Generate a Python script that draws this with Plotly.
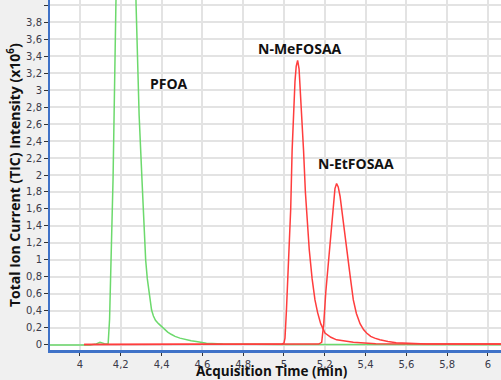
import plotly.graph_objects as go

# PFOA (green) retention time (min) and intensity (x10^6)
pfoa_t = [3.853, 4.05, 4.08, 4.098, 4.12, 4.138, 4.145, 4.162, 4.176, 4.20, 4.22, 4.24, 4.275,
          4.29, 4.304, 4.313, 4.322, 4.33, 4.338, 4.345, 4.351, 4.36, 4.37, 4.385, 4.40, 4.415,
          4.43, 4.447, 4.466, 4.49, 4.52, 4.545, 4.57, 4.6, 4.62, 4.7, 4.8, 5.0, 5.5, 6.064]
pfoa_i = [0.0, 0.0, 0.012, 0.03, 0.015, 0.01, 0.3, 1.94, 4.0, 7.5, 9.0, 8.0, 4.0,
          2.7, 1.94, 1.42, 1.0, 0.78, 0.61, 0.5, 0.41, 0.34, 0.29, 0.25, 0.215, 0.18,
          0.15, 0.125, 0.10, 0.08, 0.06, 0.05, 0.04, 0.027, 0.02, 0.012, 0.008, 0.005, 0.004, 0.003]

# N-MeFOSAA (red)
mefosaa_t = [4.02, 4.99, 5.0, 5.005, 5.012, 5.02, 5.027, 5.033, 5.04, 5.047, 5.054, 5.06, 5.067,
             5.074, 5.08, 5.087, 5.096, 5.105, 5.114, 5.124, 5.138, 5.152, 5.165, 5.18, 5.201,
             5.23, 5.258, 5.3, 5.34, 5.45, 6.064]
mefosaa_i = [0.005, 0.01, 0.02, 0.08, 0.4, 0.85, 1.12, 1.6, 2.29, 2.75, 3.1, 3.28, 3.35,
             3.25, 3.0, 2.7, 2.29, 1.8, 1.42, 1.12, 0.78, 0.53, 0.38, 0.25, 0.14,
             0.09, 0.06, 0.04, 0.03, 0.015, 0.01]

# N-EtFOSAA (red)
etfosaa_t = [4.02, 5.17, 5.185, 5.195, 5.205, 5.215, 5.225, 5.235, 5.243, 5.25, 5.258, 5.266,
             5.275, 5.285, 5.297, 5.31, 5.325, 5.34, 5.355, 5.373, 5.39, 5.405, 5.425, 5.445,
             5.47, 5.51, 5.55, 5.7, 6.064]
etfosaa_i = [0.005, 0.01, 0.03, 0.25, 0.62, 0.9, 1.12, 1.45, 1.7, 1.84, 1.90, 1.86,
             1.75, 1.55, 1.35, 1.12, 0.8, 0.53, 0.37, 0.25, 0.18, 0.14, 0.1, 0.08,
             0.06, 0.04, 0.025, 0.012, 0.01]

y_tickvals = [0, 0.2, 0.4, 0.6, 0.8, 1, 1.2, 1.4, 1.6, 1.8, 2, 2.2, 2.4, 2.6, 2.8, 3, 3.2,
              3.4, 3.6, 3.8, 4]
y_ticktext = ["0", "0,2", "0,4", "0,6", "0,8", "1", "1,2", "1,4", "1,6", "1,8", "2", "2,2",
              "2,4", "2,6", "2,8", "3", "3,2", "3,4", "3,6", "3,8", ""]
x_tickvals = [4, 4.2, 4.4, 4.6, 4.8, 5, 5.2, 5.4, 5.6, 5.8, 6]
x_ticktext = ["4", "4,2", "4,4", "4,6", "4,8", "5", "5,2", "5,4", "5,6", "5,8", "6"]

labels = ["PFOA", "N-MeFOSAA", "N-EtFOSAA"]
x_title = "Acquisition Time (min)"
y_title = "Total Ion Current (TIC) Intensity (x10<sup>6</sup>)"

GREEN = "#6cd96c"
RED = "#ff3d3d"
FONT = "Open Sans, DejaVu Sans, sans-serif"

fig = go.Figure()
fig.add_trace(go.Scatter(x=pfoa_t, y=pfoa_i, mode="lines",
                         line=dict(color=GREEN, width=1.5), name=labels[0]))
fig.add_trace(go.Scatter(x=mefosaa_t, y=mefosaa_i, mode="lines",
                         line=dict(color=RED, width=1.5), name=labels[1]))
fig.add_trace(go.Scatter(x=etfosaa_t, y=etfosaa_i, mode="lines",
                         line=dict(color=RED, width=1.5), name=labels[2]))

ann_font = dict(family=FONT, size=14, color="#111111")
fig.add_annotation(x=4.436, y=3.08, text="<b>" + labels[0] + "</b>", showarrow=False, font=ann_font)
fig.add_annotation(x=5.078, y=3.49, text="<b>" + labels[1] + "</b>", showarrow=False, font=ann_font)
fig.add_annotation(x=5.353, y=2.14, text="<b>" + labels[2] + "</b>", showarrow=False, font=ann_font)

# axis titles
fig.add_annotation(x=0.5, y=0, xref="paper", yref="paper", xanchor="center", yanchor="top",
                   yshift=-10, xshift=-4, text="<b>" + x_title + "</b>", showarrow=False,
                   font=dict(family=FONT, size=13.5, color="#111111"))
fig.add_annotation(x=0, y=0.5, xref="paper", yref="paper", xanchor="center", yanchor="middle",
                   xshift=-36, textangle=-90, text="<b>" + y_title + "</b>", showarrow=False,
                   font=dict(family=FONT, size=14, color="#111111"))

tick_font = dict(family="DejaVu Sans, sans-serif", size=10, color="#3a3a4a")

fig.update_layout(
    width=501, height=380,
    margin=dict(l=50, r=0, t=0, b=30, autoexpand=False),
    paper_bgcolor="#f0f0f0",
    plot_bgcolor="#ffffff",
    showlegend=False,
    xaxis=dict(
        range=[3.853, 6.064], automargin=False,
        tickvals=x_tickvals, ticktext=x_ticktext,
        showgrid=True, gridcolor="#e3e3e3", gridwidth=1.5,
        zeroline=False,
        showline=True, linecolor="#3f72c8", linewidth=3,
        ticks="outside", ticklen=3, tickcolor="#333333",
        tickfont=tick_font,
    ),
    yaxis=dict(
        range=[-0.06, 4.06], automargin=False,
        tickvals=y_tickvals, ticktext=y_ticktext,
        showgrid=True, gridcolor="#e3e3e3", gridwidth=1.5,
        zeroline=False,
        showline=True, linecolor="#3f72c8", linewidth=2,
        ticks="outside", ticklen=4, tickcolor="#333333",
        tickfont=tick_font,
    ),
)

fig.write_html("out.html", config={"displayModeBar": False},
               post_script="document.body.style.margin='0';document.body.style.padding='0';")
